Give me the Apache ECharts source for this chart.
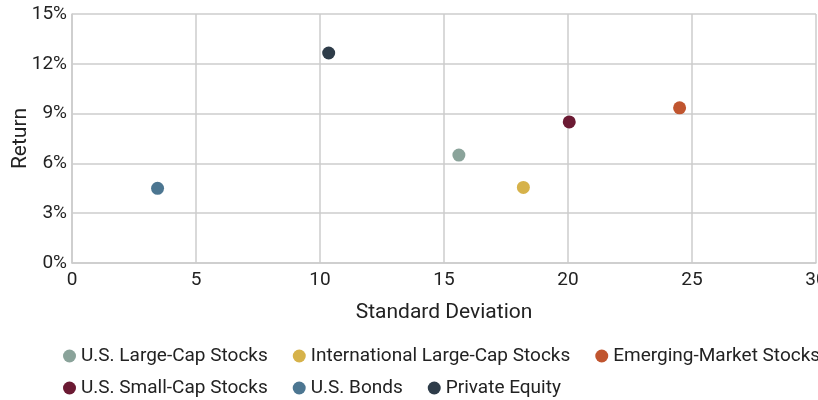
<!DOCTYPE html>
<html>
<head>
<meta charset="utf-8">
<script src="https://cdn.jsdelivr.net/npm/echarts@6/dist/echarts.min.js"></script>
<style>html,body{margin:0;padding:0;background:#fff}#c{width:818px;height:400px}</style>
</head>
<body>
<div id="c"></div>
<script>
const assetNames = ['U.S. Large-Cap Stocks', 'International Large-Cap Stocks', 'Emerging-Market Stocks', 'U.S. Small-Cap Stocks', 'U.S. Bonds', 'Private Equity'];
const stdDev = [15.6, 18.2, 24.5, 20.05, 3.45, 10.35];
const returns = [6.5, 4.55, 9.35, 8.5, 4.5, 12.65];
const xTicks = [0, 5, 10, 15, 20, 25, 30];
const yTicks = [0, 3, 6, 9, 12, 15];

const palette = ['#8aa39a', '#d6b24a', '#c0552f', '#6b1a33', '#4c7691', '#2e3c49'];
const font = 'Roboto';
const txt = '#222';

const chart = echarts.init(document.getElementById('c'), null, {renderer: 'canvas'});
const series = assetNames.map((n, i) => ({
  name: n,
  type: 'scatter',
  symbolSize: 13,
  itemStyle: {color: palette[i], opacity: 1},
  data: [[stdDev[i], returns[i]]]
}));
const legendBase = {
  left: 63, width: 790, orient: 'horizontal', icon: 'circle', itemWidth: 13, itemHeight: 13, itemGap: 25,
  padding: 0,
  textStyle: {fontFamily: font, fontSize: 19, color: txt, lineHeight: 20}
};
chart.setOption({
  animation: false,
  color: palette,
  grid: {left: 72, right: 2, top: 14, bottom: 137, containLabel: false, outerBoundsMode: 'none'},
  xAxis: {
    type: 'value', min: xTicks[0], max: xTicks[xTicks.length - 1], interval: 5,
    name: 'Standard Deviation', nameLocation: 'middle', nameGap: 39, nameMoveOverlap: false,
    nameTextStyle: {fontFamily: font, fontSize: 21, color: txt},
    axisLine: {show: true, lineStyle: {color: '#cccccc', width: 1.5}},
    axisTick: {show: false},
    axisLabel: {fontFamily: font, fontSize: 19, color: txt, margin: 8, showMaxLabel: true},
    splitLine: {show: true, lineStyle: {color: '#cccccc', width: 1.5}}
  },
  yAxis: {
    type: 'value', min: yTicks[0], max: yTicks[yTicks.length - 1], interval: 3,
    name: 'Return', nameLocation: 'middle', nameGap: 41, nameRotate: 90, nameMoveOverlap: false,
    nameTextStyle: {fontFamily: font, fontSize: 21, color: txt},
    axisLine: {show: true, lineStyle: {color: '#cccccc', width: 1.5}},
    axisTick: {show: false},
    axisLabel: {fontFamily: font, fontSize: 19, color: txt, margin: 5, formatter: '{value}%'},
    splitLine: {show: true, lineStyle: {color: '#cccccc', width: 1.5}}
  },
  legend: [
    Object.assign({}, legendBase, {top: 346, data: assetNames.slice(0, 3)}),
    Object.assign({}, legendBase, {top: 378, data: assetNames.slice(3)})
  ],
  series: series
});
</script>
</body>
</html>
